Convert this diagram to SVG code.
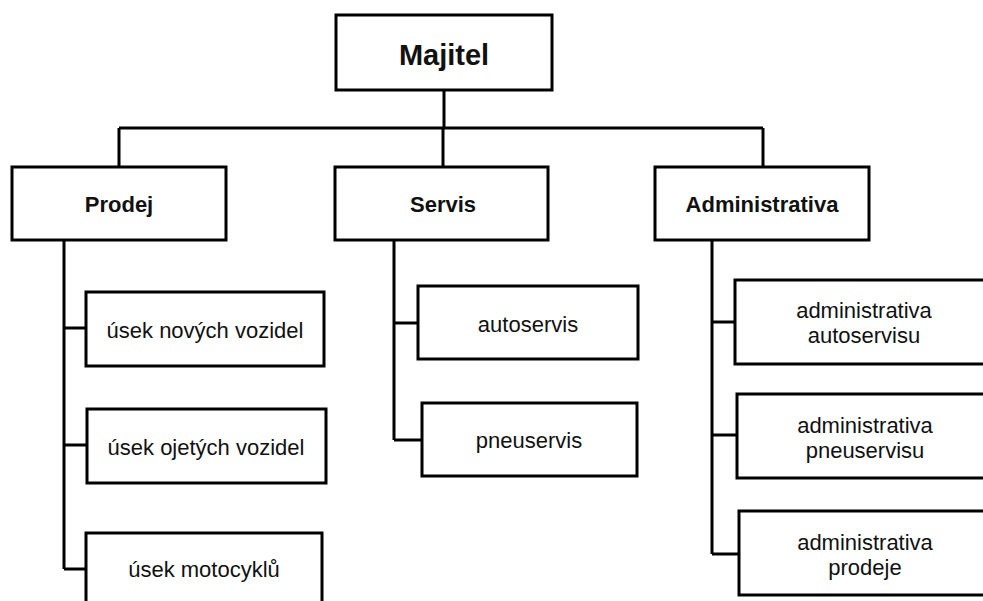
<svg xmlns="http://www.w3.org/2000/svg" width="983" height="601" viewBox="0 0 983 601">
<style>
.box{fill:#fff;stroke:#000;stroke-width:3}
.ln{fill:none;stroke:#000;stroke-width:3}
.t{font-family:"Liberation Sans",Arial,sans-serif;font-size:22px;fill:#111;text-anchor:middle}
.b{font-weight:bold}
.big{font-size:29px}
</style>
<rect width="983" height="601" fill="#fff"/>
<g id="connectors">
<path class="ln" d="M444 90V128M119 128H763M119 128V167M443 128V167M763 128V167"/>
<path class="ln" d="M64 240V569M64 328H86M64 445H87M64 569H86"/>
<path class="ln" d="M394 240V440M394 323H418M394 440H422"/>
<path class="ln" d="M712 240V554M712 322H735M712 435H737M712 554H739"/>
</g>
<g id="majitel"><rect class="box" x="336" y="15" width="216" height="75"/><text class="t b big" x="444" y="65">Majitel</text></g>
<g id="prodej"><rect class="box" x="12" y="167" width="214" height="73"/><text class="t b" x="119" y="212">Prodej</text></g>
<g id="servis"><rect class="box" x="335" y="167" width="213" height="73"/><text class="t b" x="443" y="212">Servis</text></g>
<g id="administrativa"><rect class="box" x="655" y="167" width="214" height="73"/><text class="t b" x="762" y="212">Administrativa</text></g>
<g id="usek-novych"><rect class="box" x="86" y="292" width="238" height="74"/><text class="t" x="205" y="338">úsek nových vozidel</text></g>
<g id="usek-ojetych"><rect class="box" x="87" y="409" width="239" height="74"/><text class="t" x="206" y="455">úsek ojetých vozidel</text></g>
<g id="usek-motocyklu"><rect class="box" x="86" y="533" width="236" height="80"/><text class="t" x="204" y="577">úsek motocyklů</text></g>
<g id="autoservis"><rect class="box" x="418" y="286" width="220" height="73"/><text class="t" x="528" y="332">autoservis</text></g>
<g id="pneuservis"><rect class="box" x="422" y="403" width="215" height="73"/><text class="t" x="529" y="448">pneuservis</text></g>
<g id="admin-autoservisu"><rect class="box" x="735" y="280" width="260" height="84"/><text class="t" x="864" y="318">administrativa</text><text class="t" x="864" y="343">autoservisu</text></g>
<g id="admin-pneuservisu"><rect class="box" x="737" y="394" width="260" height="84"/><text class="t" x="865" y="433">administrativa</text><text class="t" x="865" y="458">pneuservisu</text></g>
<g id="admin-prodeje"><rect class="box" x="739" y="511" width="260" height="84"/><text class="t" x="865" y="550">administrativa</text><text class="t" x="865" y="575">prodeje</text></g>
</svg>
